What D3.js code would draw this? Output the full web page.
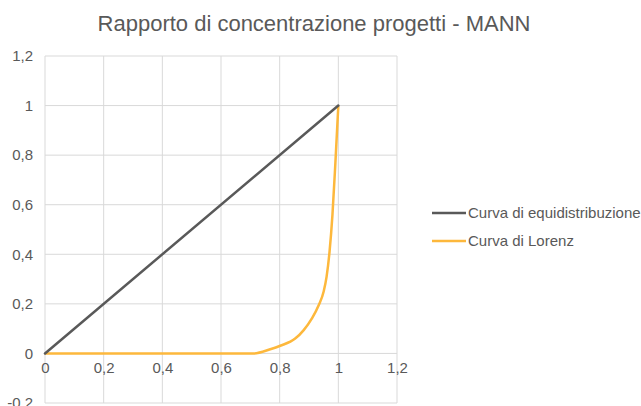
<!DOCTYPE html>
<html>
<head>
<meta charset="utf-8">
<script src="https://cdn.jsdelivr.net/npm/d3@7/dist/d3.min.js"></script>
<style>
  html, body { margin: 0; padding: 0; background: #fff; }
  svg { display: block; font-family: "Liberation Sans", Arial, sans-serif; }
</style>
</head>
<body>
<svg id="chart" width="641" height="406"></svg>
<script>
// Equal-distribution line
const equiX = [0, 1];
const equiY = [0, 1];

// Lorenz curve (cumulative share of projects vs cumulative share of value)
const lorenzX = [0, 0.711, 0.768, 0.802, 0.853, 0.882, 0.91, 0.933, 0.95, 0.96, 0.97, 0.98, 0.99, 1];
const lorenzY = [0, 0, 0.017, 0.031, 0.06, 0.094, 0.141, 0.194, 0.25, 0.31, 0.41, 0.56, 0.77, 1];

const xTicks = [0, 0.2, 0.4, 0.6, 0.8, 1, 1.2];
const yTicks = [-0.2, 0, 0.2, 0.4, 0.6, 0.8, 1, 1.2];

const seriesNames = ["Curva di equidistribuzione", "Curva di Lorenz"];
const seriesColors = ["#595959", "#fdb83c"];

const svg = d3.select("#chart");
const x = d3.scaleLinear().domain([0, 1.2]).range([45, 397]);
const y = d3.scaleLinear().domain([-0.2, 1.2]).range([403, 56]);
const fmt = v => (Math.round(v * 10) / 10).toString().replace(".", ",");
const labelFont = 15;

// Title
svg.append("text")
  .attr("x", 314).attr("y", 31)
  .attr("text-anchor", "middle")
  .attr("font-size", 22)
  .attr("fill", "#595959")
  .text("Rapporto di concentrazione progetti - MANN");

// Gridlines
const grid = svg.append("g").attr("stroke", "#d9d9d9").attr("stroke-width", 1);
grid.selectAll("line.v").data(xTicks).join("line")
  .attr("x1", d => x(d)).attr("x2", d => x(d))
  .attr("y1", y(1.2)).attr("y2", y(-0.2));
grid.selectAll("line.h").data(yTicks).join("line")
  .attr("x1", x(0)).attr("x2", x(1.2))
  .attr("y1", d => y(d)).attr("y2", d => y(d));

// Y axis labels
const yAxis = d3.axisLeft(y).tickValues(yTicks).tickFormat(fmt).tickSize(0).tickPadding(12);
svg.append("g").attr("transform", `translate(${x(0)},0)`).call(yAxis)
  .call(g => g.select(".domain").remove())
  .call(g => g.selectAll("text").attr("font-size", labelFont).attr("fill", "#595959")
    .attr("font-family", "Liberation Sans, Arial, sans-serif"));

// X axis labels sit under the zero line
const xAxis = d3.axisBottom(x).tickValues(xTicks).tickFormat(fmt).tickSize(0).tickPadding(9);
svg.append("g").attr("transform", `translate(0,${y(0)})`).call(xAxis)
  .call(g => g.select(".domain").remove())
  .call(g => g.selectAll("text").attr("font-size", labelFont).attr("fill", "#595959")
    .attr("font-family", "Liberation Sans, Arial, sans-serif"));

// Series lines
const line = d3.line().x(d => x(d[0])).y(d => y(d[1]));
const lorenzLine = d3.line().x(d => x(d[0])).y(d => y(d[1])).curve(d3.curveMonotoneX);

svg.append("path")
  .datum(d3.zip(lorenzX, lorenzY))
  .attr("d", lorenzLine)
  .attr("fill", "none").attr("stroke", seriesColors[1])
  .attr("stroke-width", 2.5).attr("stroke-linejoin", "round");

svg.append("path")
  .datum(d3.zip(equiX, equiY))
  .attr("d", line)
  .attr("fill", "none").attr("stroke", seriesColors[0])
  .attr("stroke-width", 2.5).attr("stroke-linecap", "round");

// Legend
const legend = svg.append("g").attr("transform", "translate(432,213)");
seriesNames.forEach((name, i) => {
  const g = legend.append("g").attr("transform", `translate(0,${i * 28})`);
  g.append("line").attr("x1", 0).attr("x2", 34).attr("y1", 0).attr("y2", 0)
    .attr("stroke", seriesColors[i]).attr("stroke-width", 2.5);
  g.append("text").attr("x", 36).attr("y", 0).attr("dy", "0.35em")
    .attr("font-size", labelFont).attr("fill", "#595959").text(name);
});
</script>
</body>
</html>
